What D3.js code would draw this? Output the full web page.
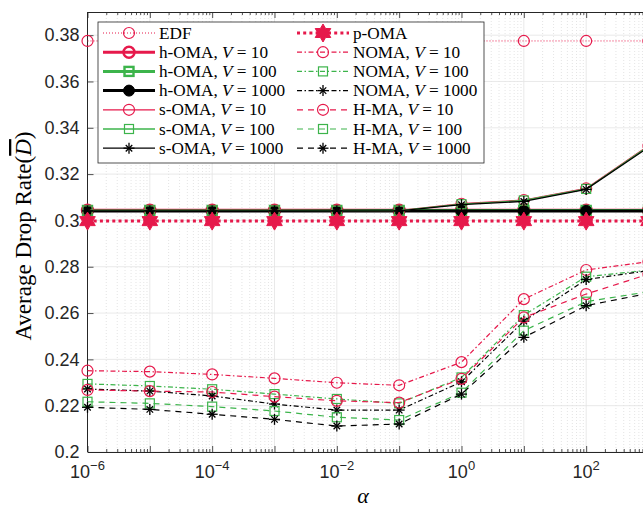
<!DOCTYPE html>
<html>
<head>
<meta charset="utf-8">
<script src="https://cdn.jsdelivr.net/npm/d3@7"></script>
<style>
  body { margin: 0; background: #fff; }
  svg { display: block; }
</style>
</head>
<body>
<svg id="chart" width="643" height="511"></svg>
<script>
// alpha values (x) and the curves
const alphaVals = [1e-6, 1e-5, 1e-4, 1e-3, 1e-2, 1e-1, 1e0, 1e1, 1e2, 1e3];

const edf      = [0.3775, 0.3775, 0.3775, 0.3775, 0.3775, 0.3775, 0.3775, 0.3775, 0.3775, 0.3775];
const pOma     = [0.2997, 0.2997, 0.2997, 0.2997, 0.2997, 0.2997, 0.2997, 0.2997, 0.2997, 0.2997];
const hOma10   = [0.3044, 0.3044, 0.3044, 0.3044, 0.3044, 0.3044, 0.3044, 0.3044, 0.3044, 0.3044];
const hOma100  = [0.3043, 0.3043, 0.3043, 0.3043, 0.3043, 0.3043, 0.3043, 0.3043, 0.3043, 0.3043];
const hOma1000 = [0.3041, 0.3041, 0.3041, 0.3041, 0.3041, 0.3041, 0.3041, 0.3041, 0.3041, 0.3041];
const sOma10   = [0.3044, 0.3044, 0.3044, 0.3044, 0.3043, 0.3042, 0.3072, 0.3088, 0.3138, 0.3322];
const sOma100  = [0.3043, 0.3043, 0.3043, 0.3043, 0.3042, 0.3042, 0.3070, 0.3086, 0.3136, 0.3320];
const sOma1000 = [0.3041, 0.3041, 0.3041, 0.3041, 0.3041, 0.3041, 0.3068, 0.3082, 0.3134, 0.3316];
const noma10   = [0.2351, 0.2347, 0.2335, 0.2318, 0.2299, 0.2288, 0.2388, 0.2660, 0.2786, 0.2822];
const noma100  = [0.2294, 0.2285, 0.2271, 0.2250, 0.2229, 0.2210, 0.2322, 0.2591, 0.2757, 0.2785];
const noma1000 = [0.2272, 0.2263, 0.2242, 0.2207, 0.2181, 0.2181, 0.2303, 0.2565, 0.2745, 0.2783];
const hma10    = [0.2268, 0.2263, 0.2259, 0.2239, 0.2221, 0.2213, 0.2316, 0.2581, 0.2682, 0.2768];
const hma100   = [0.2217, 0.2210, 0.2196, 0.2177, 0.2150, 0.2138, 0.2256, 0.2524, 0.2649, 0.2692];
const hma1000  = [0.2193, 0.2184, 0.2163, 0.2141, 0.2112, 0.2121, 0.2250, 0.2495, 0.2632, 0.2685];

const yTicks = [0.2, 0.22, 0.24, 0.26, 0.28, 0.3, 0.32, 0.34, 0.36, 0.38];
const xTickExps = [-6, -4, -2, 0, 2];

const red = "#e6194b", green = "#3cb44b", black = "#000000";
const DOT = "1,2", THICKDOT = "3,3.2", DASH = "6,5", DASHDOT = "5,2.5,1.5,2.5";

// legend order: column 1 then column 2
const series = [
  {name: "EDF",   v: null,   data: edf,      color: red,   lw: 1,   dash: DOT,      marker: "circle"},
  {name: "h-OMA", v: "10",   data: hOma10,   color: red,   lw: 3,   dash: null,     marker: "circle"},
  {name: "h-OMA", v: "100",  data: hOma100,  color: green, lw: 3,   dash: null,     marker: "square"},
  {name: "h-OMA", v: "1000", data: hOma1000, color: black, lw: 3,   dash: null,     marker: "dot"},
  {name: "s-OMA", v: "10",   data: sOma10,   color: red,   lw: 1.3, dash: null,     marker: "circle"},
  {name: "s-OMA", v: "100",  data: sOma100,  color: green, lw: 1.3, dash: null,     marker: "square"},
  {name: "s-OMA", v: "1000", data: sOma1000, color: black, lw: 1.3, dash: null,     marker: "asterisk"},
  {name: "p-OMA", v: null,   data: pOma,     color: red,   lw: 3,   dash: THICKDOT, marker: "hexagram"},
  {name: "NOMA",  v: "10",   data: noma10,   color: red,   lw: 1.2, dash: DASHDOT,  marker: "circle"},
  {name: "NOMA",  v: "100",  data: noma100,  color: green, lw: 1.2, dash: DASHDOT,  marker: "square"},
  {name: "NOMA",  v: "1000", data: noma1000, color: black, lw: 1.2, dash: DASHDOT,  marker: "asterisk"},
  {name: "H-MA",  v: "10",   data: hma10,    color: red,   lw: 1.2, dash: DASH,     marker: "circle"},
  {name: "H-MA",  v: "100",  data: hma100,   color: green, lw: 1.2, dash: DASH,     marker: "square"},
  {name: "H-MA",  v: "1000", data: hma1000,  color: black, lw: 1.2, dash: DASH,     marker: "asterisk"}
];

const svg = d3.select("#chart");
const plotLeft = 87.5, plotRight = 648.5, plotTop = 12, plotBottom = 452;

const x = d3.scaleLog().domain([1e-6, 1e3]).range([plotLeft, plotRight]);
const y = d3.scaleLinear().domain([0.2, 0.39]).range([plotBottom, plotTop]);

// minor decade positions 2..9
const minorX = [];
for (let e = -6; e < 3; e++) {
  for (let k = 2; k <= 9; k++) minorX.push(k * Math.pow(10, e));
}
const majorX = [-6, -5, -4, -3, -2, -1, 0, 1, 2].map(e => Math.pow(10, e));

// grid
const grid = svg.append("g");
grid.selectAll(".minor").data(minorX).enter().append("line")
  .attr("x1", d => x(d)).attr("x2", d => x(d))
  .attr("y1", plotTop).attr("y2", plotBottom)
  .attr("stroke", "#d9d9d9").attr("stroke-width", 0.7)
  .attr("stroke-dasharray", "1,2");
grid.selectAll(".majorx").data(majorX).enter().append("line")
  .attr("x1", d => x(d)).attr("x2", d => x(d))
  .attr("y1", plotTop).attr("y2", plotBottom)
  .attr("stroke", "#e3e3e3").attr("stroke-width", 0.8);
grid.selectAll(".majory").data(yTicks).enter().append("line")
  .attr("x1", plotLeft).attr("x2", plotRight)
  .attr("y1", d => y(d)).attr("y2", d => y(d))
  .attr("stroke", "#e3e3e3").attr("stroke-width", 0.8);

// axes (ticks point inward like matlab)
const axisColor = "#262626";

function styleAxis(g) {
  g.select(".domain").attr("stroke", axisColor).attr("stroke-width", 1);
  g.selectAll(".tick line").attr("stroke", axisColor).attr("stroke-width", 0.8);
}

svg.append("g").attr("transform", `translate(0,${plotBottom})`)
  .call(d3.axisBottom(x).tickValues(minorX).tickSize(-3).tickSizeOuter(0).tickFormat(""))
  .call(styleAxis);
svg.append("g").attr("transform", `translate(0,${plotBottom})`)
  .call(d3.axisBottom(x).tickValues(majorX).tickSize(-6).tickSizeOuter(0).tickFormat(""))
  .call(styleAxis);
svg.append("g").attr("transform", `translate(0,${plotTop})`)
  .call(d3.axisTop(x).tickValues(minorX).tickSize(-3).tickSizeOuter(0).tickFormat(""))
  .call(styleAxis);
svg.append("g").attr("transform", `translate(0,${plotTop})`)
  .call(d3.axisTop(x).tickValues(majorX).tickSize(-6).tickSizeOuter(0).tickFormat(""))
  .call(styleAxis);

const yAxis = svg.append("g").attr("transform", `translate(${plotLeft},0)`)
  .call(d3.axisLeft(y).tickValues(yTicks).tickSize(-6).tickSizeOuter(0).tickPadding(8)
    .tickFormat(d => String(d)))
  .call(styleAxis);
yAxis.select(".domain").attr("d", `M0,${plotTop}V${plotBottom}`);
yAxis.selectAll(".tick text")
  .attr("font-family", "'Liberation Sans', Arial, sans-serif")
  .attr("font-size", 18).attr("fill", "#262626");

// x tick labels 10^e
const xLab = svg.append("g")
  .attr("font-family", "'Liberation Sans', Arial, sans-serif")
  .attr("fill", "#262626");
xTickExps.forEach(e => {
  const t = xLab.append("text")
    .attr("x", x(Math.pow(10, e)))
    .attr("y", 478)
    .attr("text-anchor", "middle")
    .attr("font-size", 18);
  t.append("tspan").text("10");
  t.append("tspan").attr("dy", -8).attr("font-size", 13)
    .text(e < 0 ? "\u2212" + Math.abs(e) : String(e));
});

// axis titles
svg.append("text")
  .attr("x", 363).attr("y", 503)
  .attr("text-anchor", "middle")
  .attr("font-family", "'Liberation Serif', 'Times New Roman', serif")
  .attr("font-style", "italic")
  .attr("font-size", 22)
  .text("\u03b1");

const yTitle = svg.append("text")
  .attr("transform", "translate(31,236) rotate(-90)")
  .attr("text-anchor", "middle")
  .attr("font-family", "'Liberation Serif', 'Times New Roman', serif")
  .attr("font-size", 23);
yTitle.append("tspan").text("Average Drop Rate(");
yTitle.append("tspan").attr("font-style", "italic")
  .style("text-decoration", "overline").text("D");
yTitle.append("tspan").text(")");

// markers
function hexagramPath(R) {
  const r = R / Math.sqrt(3);
  const pts = [];
  for (let i = 0; i < 12; i++) {
    const rad = i % 2 === 0 ? R : r;
    const a = -Math.PI / 2 + i * Math.PI / 6;
    pts.push([rad * Math.cos(a), rad * Math.sin(a)]);
  }
  return "M" + pts.map(p => p.join(",")).join("L") + "Z";
}

function drawMarker(g, s, cx, cy) {
  const sw = s.lw >= 3 ? 2.4 : 1.2;
  if (s.marker === "circle") {
    g.append("circle").attr("cx", cx).attr("cy", cy).attr("r", 5.5)
      .attr("fill", "none").attr("stroke", s.color).attr("stroke-width", sw);
  } else if (s.marker === "square") {
    g.append("rect").attr("x", cx - 4.5).attr("y", cy - 4.5)
      .attr("width", 9).attr("height", 9)
      .attr("fill", "none").attr("stroke", s.color).attr("stroke-width", sw);
  } else if (s.marker === "dot") {
    g.append("circle").attr("cx", cx).attr("cy", cy).attr("r", 5.5)
      .attr("fill", s.color).attr("stroke", s.color).attr("stroke-width", 1);
  } else if (s.marker === "asterisk") {
    const a = g.append("g").attr("transform", `translate(${cx},${cy})`)
      .attr("stroke", s.color).attr("stroke-width", 1.3);
    [0, 45, 90, 135].forEach(deg => {
      const rr = deg % 90 === 0 ? 5.5 : 4.6;
      const t = deg * Math.PI / 180;
      a.append("line")
        .attr("x1", -rr * Math.cos(t)).attr("y1", -rr * Math.sin(t))
        .attr("x2", rr * Math.cos(t)).attr("y2", rr * Math.sin(t));
    });
  } else if (s.marker === "hexagram") {
    g.append("path").attr("transform", `translate(${cx},${cy})`)
      .attr("d", hexagramPath(9))
      .attr("fill", s.color).attr("stroke", s.color).attr("stroke-width", 1);
  }
}

// lines
const line = d3.line()
  .x((d, i) => x(alphaVals[i]))
  .y(d => y(d));

const plot = svg.append("g");
series.forEach(s => {
  const g = plot.append("g");
  g.append("path")
    .attr("d", line(s.data))
    .attr("fill", "none")
    .attr("stroke", s.color)
    .attr("stroke-width", s.lw)
    .attr("stroke-dasharray", s.dash);
  s.data.forEach((v, i) => drawMarker(g, s, x(alphaVals[i]), y(v)));
});

// legend
const lg = svg.append("g");
lg.append("rect")
  .attr("x", 98).attr("y", 22).attr("width", 386).attr("height", 141)
  .attr("fill", "#fff").attr("stroke", axisColor).attr("stroke-width", 0.8);

series.forEach((s, i) => {
  const col = Math.floor(i / 7), row = i % 7;
  const x0 = col === 0 ? 103 : 297;
  const ly = 33 + row * 19.2;
  const g = lg.append("g");
  g.append("line")
    .attr("x1", x0).attr("x2", x0 + 52)
    .attr("y1", ly).attr("y2", ly)
    .attr("stroke", s.color).attr("stroke-width", s.lw)
    .attr("stroke-dasharray", s.dash);
  drawMarker(g, s, x0 + 26, ly);
  const t = g.append("text")
    .attr("x", x0 + 56).attr("y", ly + 5.5)
    .attr("font-family", "'Liberation Serif', 'Times New Roman', serif")
    .attr("font-size", 17.2).attr("fill", "#000");
  if (s.v === null) {
    t.text(s.name);
  } else {
    t.append("tspan").text(s.name + ", ");
    t.append("tspan").attr("font-style", "italic").text("V");
    t.append("tspan").text(" = " + s.v);
  }
});
</script>
</body>
</html>
